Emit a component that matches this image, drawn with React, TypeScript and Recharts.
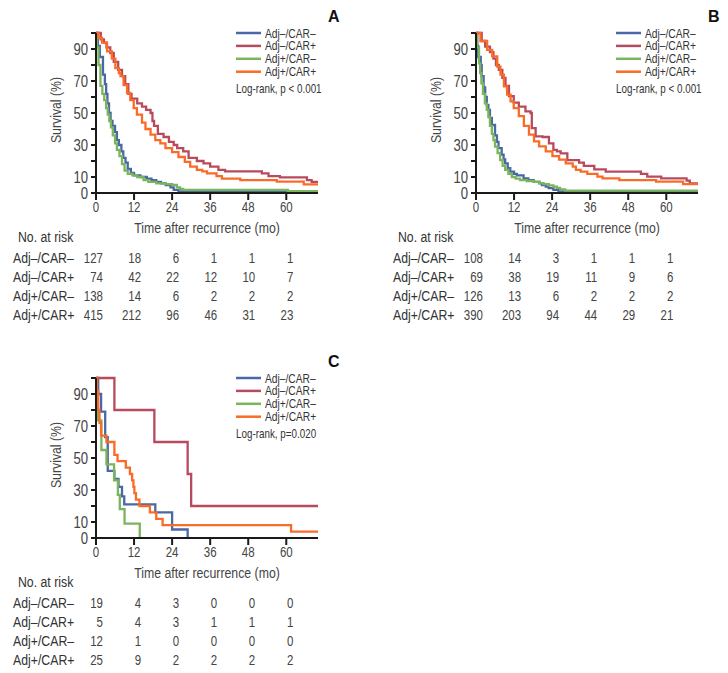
import React from "react";
import { LineChart, Line, XAxis, YAxis, Customized } from "recharts";

const FONT = '"Liberation Sans", Arial, sans-serif';
const AXIS = "#1a1a1a";
const TEXT = "#444";

const MONTH_TICKS = [0, 12, 24, 36, 48, 60];
const SURV_TICKS = [0, 10, 20, 30, 40, 50, 60, 70, 80, 90, 100];
const SURV_LABELS = [0, 10, 30, 50, 70, 90];
const GROUPS = ["Adj–/CAR–", "Adj–/CAR+", "Adj+/CAR–", "Adj+/CAR+"];
const COLORS = ["#4a68a6", "#b84a5e", "#7ab55c", "#fa6b28"];

// [month, survival %] step points
const aNegNeg = [[0, 100], [0.6, 92], [1.2, 85], [2.2, 74], [2.8, 68], [3.2, 62], [3.6, 56], [4.1, 50], [4.6, 45], [5.2, 42], [6, 38], [6.6, 33], [7.2, 30], [8, 26], [8.6, 22], [9.3, 19], [10, 15], [11, 12.5], [12, 11], [14, 10], [16, 9], [17.5, 8], [19, 7], [20.5, 6], [22, 5], [23.5, 3.5], [24.5, 2], [26, 1], [70, 1]];
const aNegPos = [[0, 100], [1.5, 96], [2.5, 94], [3.3, 91], [4.5, 87.5], [5.6, 82], [7, 77], [8.2, 73], [9.2, 68], [10.2, 62], [11.2, 59], [13, 56], [14.5, 54], [15.8, 52], [17.2, 50], [17.8, 45], [18.3, 42], [19.5, 37], [21.3, 35], [23, 32], [24.5, 30], [25.6, 28], [27.5, 26], [29.2, 22], [31.8, 20], [33.9, 18.5], [36, 16.5], [38.6, 14.4], [40.7, 13.5], [52.3, 12.3], [54.4, 10.6], [58, 9.8], [66.5, 8.1], [68, 7], [70.5, 7]];
const aPosNeg = [[0, 100], [0.3, 91], [0.8, 80], [1.4, 67], [2, 62], [2.6, 58], [3.2, 53], [3.7, 49], [4.2, 45], [4.7, 41], [5.3, 36], [6, 31], [6.6, 27], [7.4, 23], [8.2, 18], [9, 14], [10, 12], [11.5, 11], [13, 10], [15, 8], [16.5, 7], [19, 6], [22, 5.5], [24, 5], [25.5, 3.5], [26.5, 2.5], [27.5, 2], [60.5, 1.2], [70.5, 1.2]];
const aPosPos = [[0, 100], [0.8, 97], [1.9, 94], [3.5, 88.5], [5, 84], [6.1, 78], [7.2, 75], [7.7, 73], [8.7, 67.5], [9.8, 62.5], [10.8, 58], [11.9, 53], [12.9, 49], [14.5, 44], [15.6, 40], [17.2, 36.5], [18.7, 33], [20.3, 31], [21.9, 28], [24, 25.5], [26, 22.5], [28, 19.5], [29.7, 16.5], [31.8, 14.5], [33.5, 13.5], [35, 12.3], [38, 10.6], [39.7, 9], [45.5, 8.1], [57, 7.1], [65.5, 5.4], [70.5, 5.4]];

const bNegNeg = [[0, 100], [0.4, 92], [0.7, 85], [1.5, 80], [1.8, 73], [2.4, 66], [2.9, 60], [3.4, 55], [3.9, 52], [4.4, 47], [5, 42.5], [6, 36], [6.6, 32], [7.1, 28], [8.1, 24], [8.7, 21], [9.2, 18.5], [10, 15.5], [10.8, 13.3], [12, 12], [12.9, 11], [15, 9.2], [16.5, 8], [18.2, 7], [20, 6], [20.8, 5], [22, 4], [22.9, 3], [24.4, 2], [26, 1], [70.5, 1]];
const bNegPos = [[0, 100], [1.8, 95], [2.9, 91.5], [4.4, 88], [5.5, 84], [6.3, 80], [7.2, 77], [8.3, 72], [9.3, 67], [10.4, 60.5], [11.9, 56.5], [13.5, 54], [15.6, 51], [17.2, 50], [17.6, 40.5], [18.8, 35.4], [21, 35], [23, 31], [24.4, 27], [25.5, 26], [26.7, 24.8], [28.8, 20.6], [32.5, 19], [34, 16.9], [37.3, 14.8], [40.9, 13.3], [52, 11.9], [54, 10.2], [58.4, 9.2], [66.4, 7.7], [67.4, 6], [70.5, 6]];
const bPosNeg = [[0, 100], [0.3, 91], [0.95, 81], [1.3, 75], [1.7, 68.5], [2.2, 62], [2.8, 56], [3.4, 52], [3.9, 47.5], [4.4, 42], [5, 37], [5.5, 33], [6, 29], [6.8, 25], [7.6, 20.6], [8.4, 17], [9.2, 14.4], [10.2, 12], [11.3, 10], [12.5, 9], [13.9, 8], [16, 7.5], [18.2, 7], [20, 6.2], [21.3, 5.6], [23, 4.8], [24.4, 4], [25.5, 3.2], [26.5, 2.3], [28.1, 1.5], [70.5, 1.5]];
const bPosPos = [[0, 100], [1.4, 95], [3.5, 89.5], [5.1, 85.4], [6.7, 79], [7.7, 74], [8.8, 66.7], [9.8, 61.5], [10.9, 57.3], [11.9, 53], [13.5, 48], [15.1, 42], [16.7, 36.5], [18.3, 32.3], [19.9, 29.2], [22, 26], [24.1, 23], [26.2, 20.8], [28.3, 18.5], [30.5, 16.5], [31.5, 14.4], [33, 13.3], [35.1, 11.9], [38.3, 10.2], [39.9, 9.2], [45.2, 8.1], [56.8, 7.1], [65.3, 5.6], [70.5, 5.6]];

const cNegNeg = [[0, 100], [0.7, 90], [1.6, 79], [2.9, 63], [3.7, 42], [5.8, 37], [7.1, 32], [8.2, 26], [8.9, 21], [18.7, 16], [24, 5.3], [28.9, 0]];
const cNegPos = [[0, 100], [5.8, 80], [18.4, 60], [28.9, 40], [30, 20], [70.5, 20]];
const cPosNeg = [[0, 100], [0.3, 91.7], [0.6, 73.5], [1.7, 55], [3.3, 46], [5.7, 36], [6.9, 27], [7.5, 18], [9, 9], [13.8, 0]];
const cPosPos = [[0, 100], [0.3, 92], [0.7, 80], [1.1, 72], [1.6, 64], [3.3, 60], [5.8, 52], [6.8, 48], [9.4, 44], [10.7, 40], [11.4, 36], [11.8, 32], [12.1, 28], [12.6, 24], [13.7, 20], [17, 16], [19, 12], [21, 8], [61.5, 4], [70.5, 4]];

// number at risk at 0, 12, 24, 36, 48, 60 months
const riskA = [[127, 18, 6, 1, 1, 1], [74, 42, 22, 12, 10, 7], [138, 14, 6, 2, 2, 2], [415, 212, 96, 46, 31, 23]];
const riskB = [[108, 14, 3, 1, 1, 1], [69, 38, 19, 11, 9, 6], [126, 13, 6, 2, 2, 2], [390, 203, 94, 44, 29, 21]];
const riskC = [[19, 4, 3, 0, 0, 0], [5, 4, 3, 1, 1, 1], [12, 1, 0, 0, 0, 0], [25, 9, 2, 2, 2, 2]];

const toPts = (arr: number[][]) => arr.map(([t, s]) => ({ t, s }));

const PLOT_LEFT = 96;
const PLOT_RIGHT = 318;
const PLOT_TOP = 33;
const ROW_BASE = [263, 282, 301, 320];

// narrow text: Liberation Sans squeezed like Arial Narrow
function NText({ x, y, size, anchor = "start", fill = TEXT, rotate = 0, weight, children }: any) {
  const tr = `translate(${x} ${y})${rotate ? ` rotate(${rotate})` : ""} scale(0.82 1)`;
  return (
    <text transform={tr} fontSize={size} fill={fill} textAnchor={anchor} fontFamily={FONT} fontWeight={weight}>
      {children}
    </text>
  );
}

function Decor({ letter, pText }: { letter: string; pText: string }) {
  return (
    <g>
      <text x={328} y={22} fontSize={16} fontWeight="bold" fill="#111" fontFamily={FONT}>
        {letter}
      </text>
      <NText x={61} y={110} size={15} anchor="middle" rotate={-90}>
        Survival (%)
      </NText>
      <NText x={207} y={233} size={15} anchor="middle">
        Time after recurrence (mo)
      </NText>
      <NText x={18} y={242} size={15} fill="#333">
        No. at risk
      </NText>
      {GROUPS.map((g, i) => (
        <g key={g}>
          <line x1={236} x2={261} y1={33 + i * 12.9} y2={33 + i * 12.9} stroke={COLORS[i]} strokeWidth={2.5} />
          <NText x={265} y={37.5 + i * 12.9} size={12.5} fill="#333">
            {g}
          </NText>
        </g>
      ))}
      <NText x={236} y={93} size={12} fill="#333">
        {pText}
      </NText>
    </g>
  );
}

function KmPanel({ letter, pText, series, risk, left, top, width }: any) {
  const monthTick = (p: any) => {
    const k = MONTH_TICKS.indexOf(p.payload.value);
    return (
      <g>
        <NText x={p.x} y={212} size={14} anchor="middle">
          {p.payload.value}
        </NText>
        {risk.map((row: number[], i: number) => (
          <g key={i}>
            {k === 0 && (
              <NText x={13} y={ROW_BASE[i]} size={15} fill="#333">
                {GROUPS[i]}
              </NText>
            )}
            <NText x={p.x + 7} y={ROW_BASE[i]} size={14} anchor="end">
              {row[k]}
            </NText>
          </g>
        ))}
      </g>
    );
  };
  const survTick = (p: any) =>
    SURV_LABELS.includes(p.payload.value) ? (
      <NText x={p.x - 1} y={p.y + 5.5} size={16} anchor="end">
        {p.payload.value}
      </NText>
    ) : (
      <g />
    );
  return (
    <div style={{ position: "absolute", left, top }}>
      <LineChart
        width={width}
        height={330}
        margin={{ top: PLOT_TOP, right: width - PLOT_RIGHT, bottom: 5, left: PLOT_LEFT - 40 }}
      >
        <XAxis
          xAxisId="t"
          dataKey="t"
          type="number"
          domain={[0, 70]}
          allowDataOverflow
          ticks={MONTH_TICKS}
          interval={0}
          height={132}
          axisLine={{ stroke: AXIS, strokeWidth: 2 }}
          tickLine={{ stroke: AXIS, strokeWidth: 2 }}
          tickSize={7}
          tick={monthTick}
        />
        <YAxis
          type="number"
          domain={[0, 100]}
          ticks={SURV_TICKS}
          interval={0}
          width={40}
          axisLine={{ stroke: AXIS, strokeWidth: 2 }}
          tickLine={{ stroke: AXIS, strokeWidth: 2 }}
          tickSize={5}
          tick={survTick}
        />
        {series.map((d: number[][], i: number) => (
          <Line
            key={i}
            xAxisId="t"
            data={toPts(d)}
            dataKey="s"
            type="stepAfter"
            stroke={COLORS[i]}
            strokeWidth={2.3}
            dot={false}
            activeDot={false}
            isAnimationActive={false}
          />
        ))}
        <Customized component={<Decor letter={letter} pText={pText} />} />
      </LineChart>
    </div>
  );
}

export default function App() {
  return (
    <div style={{ position: "absolute", left: 0, top: 0, width: 728, height: 673, background: "#fff", overflow: "hidden" }}>
      <KmPanel letter="A" pText="Log-rank, p < 0.001" series={[aNegNeg, aNegPos, aPosNeg, aPosPos]} risk={riskA} left={0} top={0} width={364} />
      <KmPanel letter="B" pText="Log-rank, p < 0.001" series={[bNegNeg, bNegPos, bPosNeg, bPosPos]} risk={riskB} left={380} top={0} width={348} />
      <KmPanel letter="C" pText="Log-rank, p=0.020" series={[cNegNeg, cNegPos, cPosNeg, cPosPos]} risk={riskC} left={0} top={345} width={364} />
    </div>
  );
}
